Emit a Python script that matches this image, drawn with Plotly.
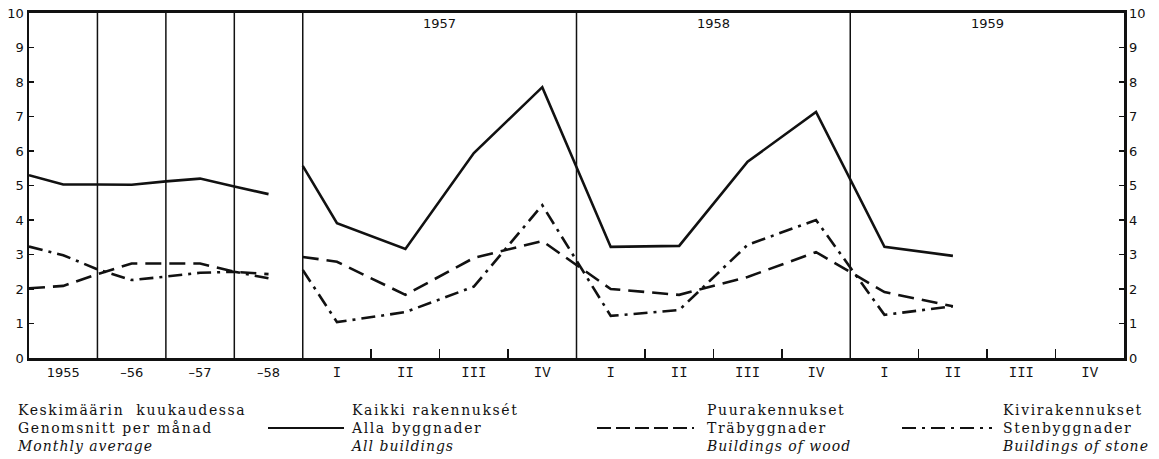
import plotly.graph_objects as go

# ---- data ----
annual_x = [0, 0.5, 1.0, 1.5, 2.0, 2.5, 3.0, 3.5]
annual_all = [5.3, 5.03, 5.03, 5.02, 5.12, 5.2, 4.97, 4.75]
annual_wood = [2.02, 2.09, 2.43, 2.74, 2.74, 2.74, 2.5, 2.43]
annual_stone = [3.23, 2.98, 2.57, 2.26, 2.36, 2.47, 2.5, 2.31]

quarter_x = [4.0, 4.5, 5.5, 6.5, 7.5, 8.5, 9.5, 10.5, 11.5, 12.5, 13.5]
quarter_all = [5.57, 3.91, 3.16, 5.94, 7.85, 3.22, 3.25, 5.69, 7.13, 3.22, 2.96]
quarter_wood = [2.93, 2.79, 1.83, 2.9, 3.39, 2.0, 1.83, 2.35, 3.07, 1.91, 1.5]
quarter_stone = [2.55, 1.04, 1.33, 2.07, 4.43, 1.22, 1.39, 3.28, 4.0, 1.25, 1.5]

slot_labels = ["1955", "–56", "–57", "–58",
               "I", "II", "III", "IV",
               "I", "II", "III", "IV",
               "I", "II", "III", "IV"]
year_labels = ["1957", "1958", "1959"]
year_centers = [6, 10, 14]
year_boundaries = [1, 2, 3, 4, 8, 12]
quarter_ticks = [5, 6, 7, 9, 10, 11, 13, 14, 15]
y_ticks = list(range(0, 11))

legend_col1 = ["Keskimäärin  kuukaudessa", "Genomsnitt per månad", "Monthly average"]
legend_all = ["Kaikki rakennuksét", "Alla byggnader", "All buildings"]
legend_wood = ["Puurakennukset", "Träbyggnader", "Buildings of wood"]
legend_stone = ["Kivirakennukset", "Stenbyggnader", "Buildings of stone"]

# ---- styles ----
INK = "#111111"
W = 1159
H = 459
ML, MR, MT, MB = 29, 35, 13, 101
PW = W - ML - MR
PH = H - MT - MB

DASH = "16px,8px"
DASHDOT = "14px,6px,3px,6px"


def join(a, b):
    return list(a) + [None] + list(b)


fig = go.Figure()
series = [
    (annual_all, quarter_all, "solid"),
    (annual_wood, quarter_wood, DASH),
    (annual_stone, quarter_stone, DASHDOT),
]
for ann, qua, dash in series:
    fig.add_trace(go.Scatter(
        x=join(annual_x, quarter_x), y=join(ann, qua),
        mode="lines", line=dict(color=INK, width=2.6, dash=dash),
        connectgaps=False, hoverinfo="skip", showlegend=False))

# invisible trace to anchor right y-axis
fig.add_trace(go.Scatter(x=[0], y=[0], yaxis="y2", mode="markers",
                         marker=dict(opacity=0), hoverinfo="skip",
                         showlegend=False))

mono = "font-family:Liberation Mono;font-size:14px"
ticktext = []
for i, t in enumerate(slot_labels):
    if i >= 4:
        ticktext.append(f'<span style="{mono}">{t}</span>')
    else:
        ticktext.append(t)

yfont = dict(family="DejaVu Sans", size=13, color=INK)
fig.update_layout(
    width=W, height=H,
    margin=dict(l=ML, r=MR, t=MT, b=MB, autoexpand=False),
    paper_bgcolor="white", plot_bgcolor="white",
    hovermode=False,
    xaxis=dict(
        range=[0, 16], showgrid=False, zeroline=False, automargin=False,
        showline=True, linecolor=INK, linewidth=3, mirror=True,
        tickmode="array", tickvals=[i + 0.5 for i in range(16)],
        ticktext=ticktext, ticks="",
        tickfont=dict(family="DejaVu Sans", size=13, color=INK),
        minor=dict(tickmode="array", tickvals=quarter_ticks,
                   ticks="inside", ticklen=9, tickwidth=1.5,
                   tickcolor=INK, showgrid=False),
    ),
    yaxis=dict(
        range=[0, 10], showgrid=False, zeroline=False, automargin=False,
        showline=True, linecolor=INK, linewidth=2.5,
        tickmode="array", tickvals=y_ticks,
        ticks="inside", ticklen=5, tickwidth=1.5, tickcolor=INK,
        tickfont=yfont,
    ),
    yaxis2=dict(
        range=[0, 10], overlaying="y", side="right", automargin=False,
        showgrid=False, zeroline=False,
        showline=True, linecolor=INK, linewidth=2.5,
        tickmode="array", tickvals=y_ticks,
        ticks="inside", ticklen=5, tickwidth=1.5, tickcolor=INK,
        tickfont=yfont,
    ),
)

shapes = []
for xb in year_boundaries:
    shapes.append(dict(type="line", xref="x", yref="y", x0=xb, x1=xb,
                       y0=0, y1=10, line=dict(color=INK, width=1.5)))

annotations = []
for lab, xc in zip(year_labels, year_centers):
    annotations.append(dict(x=xc, y=1, xref="x", yref="paper",
                            text=lab, showarrow=False, yanchor="top",
                            yshift=-1,
                            font=dict(family="DejaVu Sans", size=13, color=INK)))


def px_x(p):
    return (p - ML) / PW


def px_y(p):
    return (H - MB - p) / PH


def legend_block(texts):
    a, b, c = texts
    return (f'<span style="letter-spacing:1.6px">{a}</span><br>'
            f'<span style="letter-spacing:1.6px">{b}</span><br>'
            f'<span style="letter-spacing:1.0px"><i>{c}</i></span>')


cols = [(17, legend_col1), (350, legend_all), (706, legend_wood), (1002, legend_stone)]
for cx, texts in cols:
    annotations.append(dict(x=px_x(cx), y=px_y(428), xref="paper", yref="paper",
                            text=legend_block(texts), showarrow=False,
                            xanchor="left", yanchor="middle", align="left",
                            xshift=-1, borderpad=0,
                            font=dict(family="DejaVu Serif", size=14, color=INK)))

samples = [(268, 344, "solid"), (597, 694, "14px,5px"), (902, 992, "14px,6px,3px,6px")]
for x0, x1, d in samples:
    shapes.append(dict(type="line", xref="paper", yref="paper",
                       x0=px_x(x0), x1=px_x(x1), y0=px_y(428), y1=px_y(428),
                       line=dict(color=INK, width=2.2, dash=d)))

fig.update_layout(shapes=shapes, annotations=annotations)

fig.write_html("out.html",
               config={"displayModeBar": False, "staticPlot": True},
               post_script="document.body.style.margin='0px';")
